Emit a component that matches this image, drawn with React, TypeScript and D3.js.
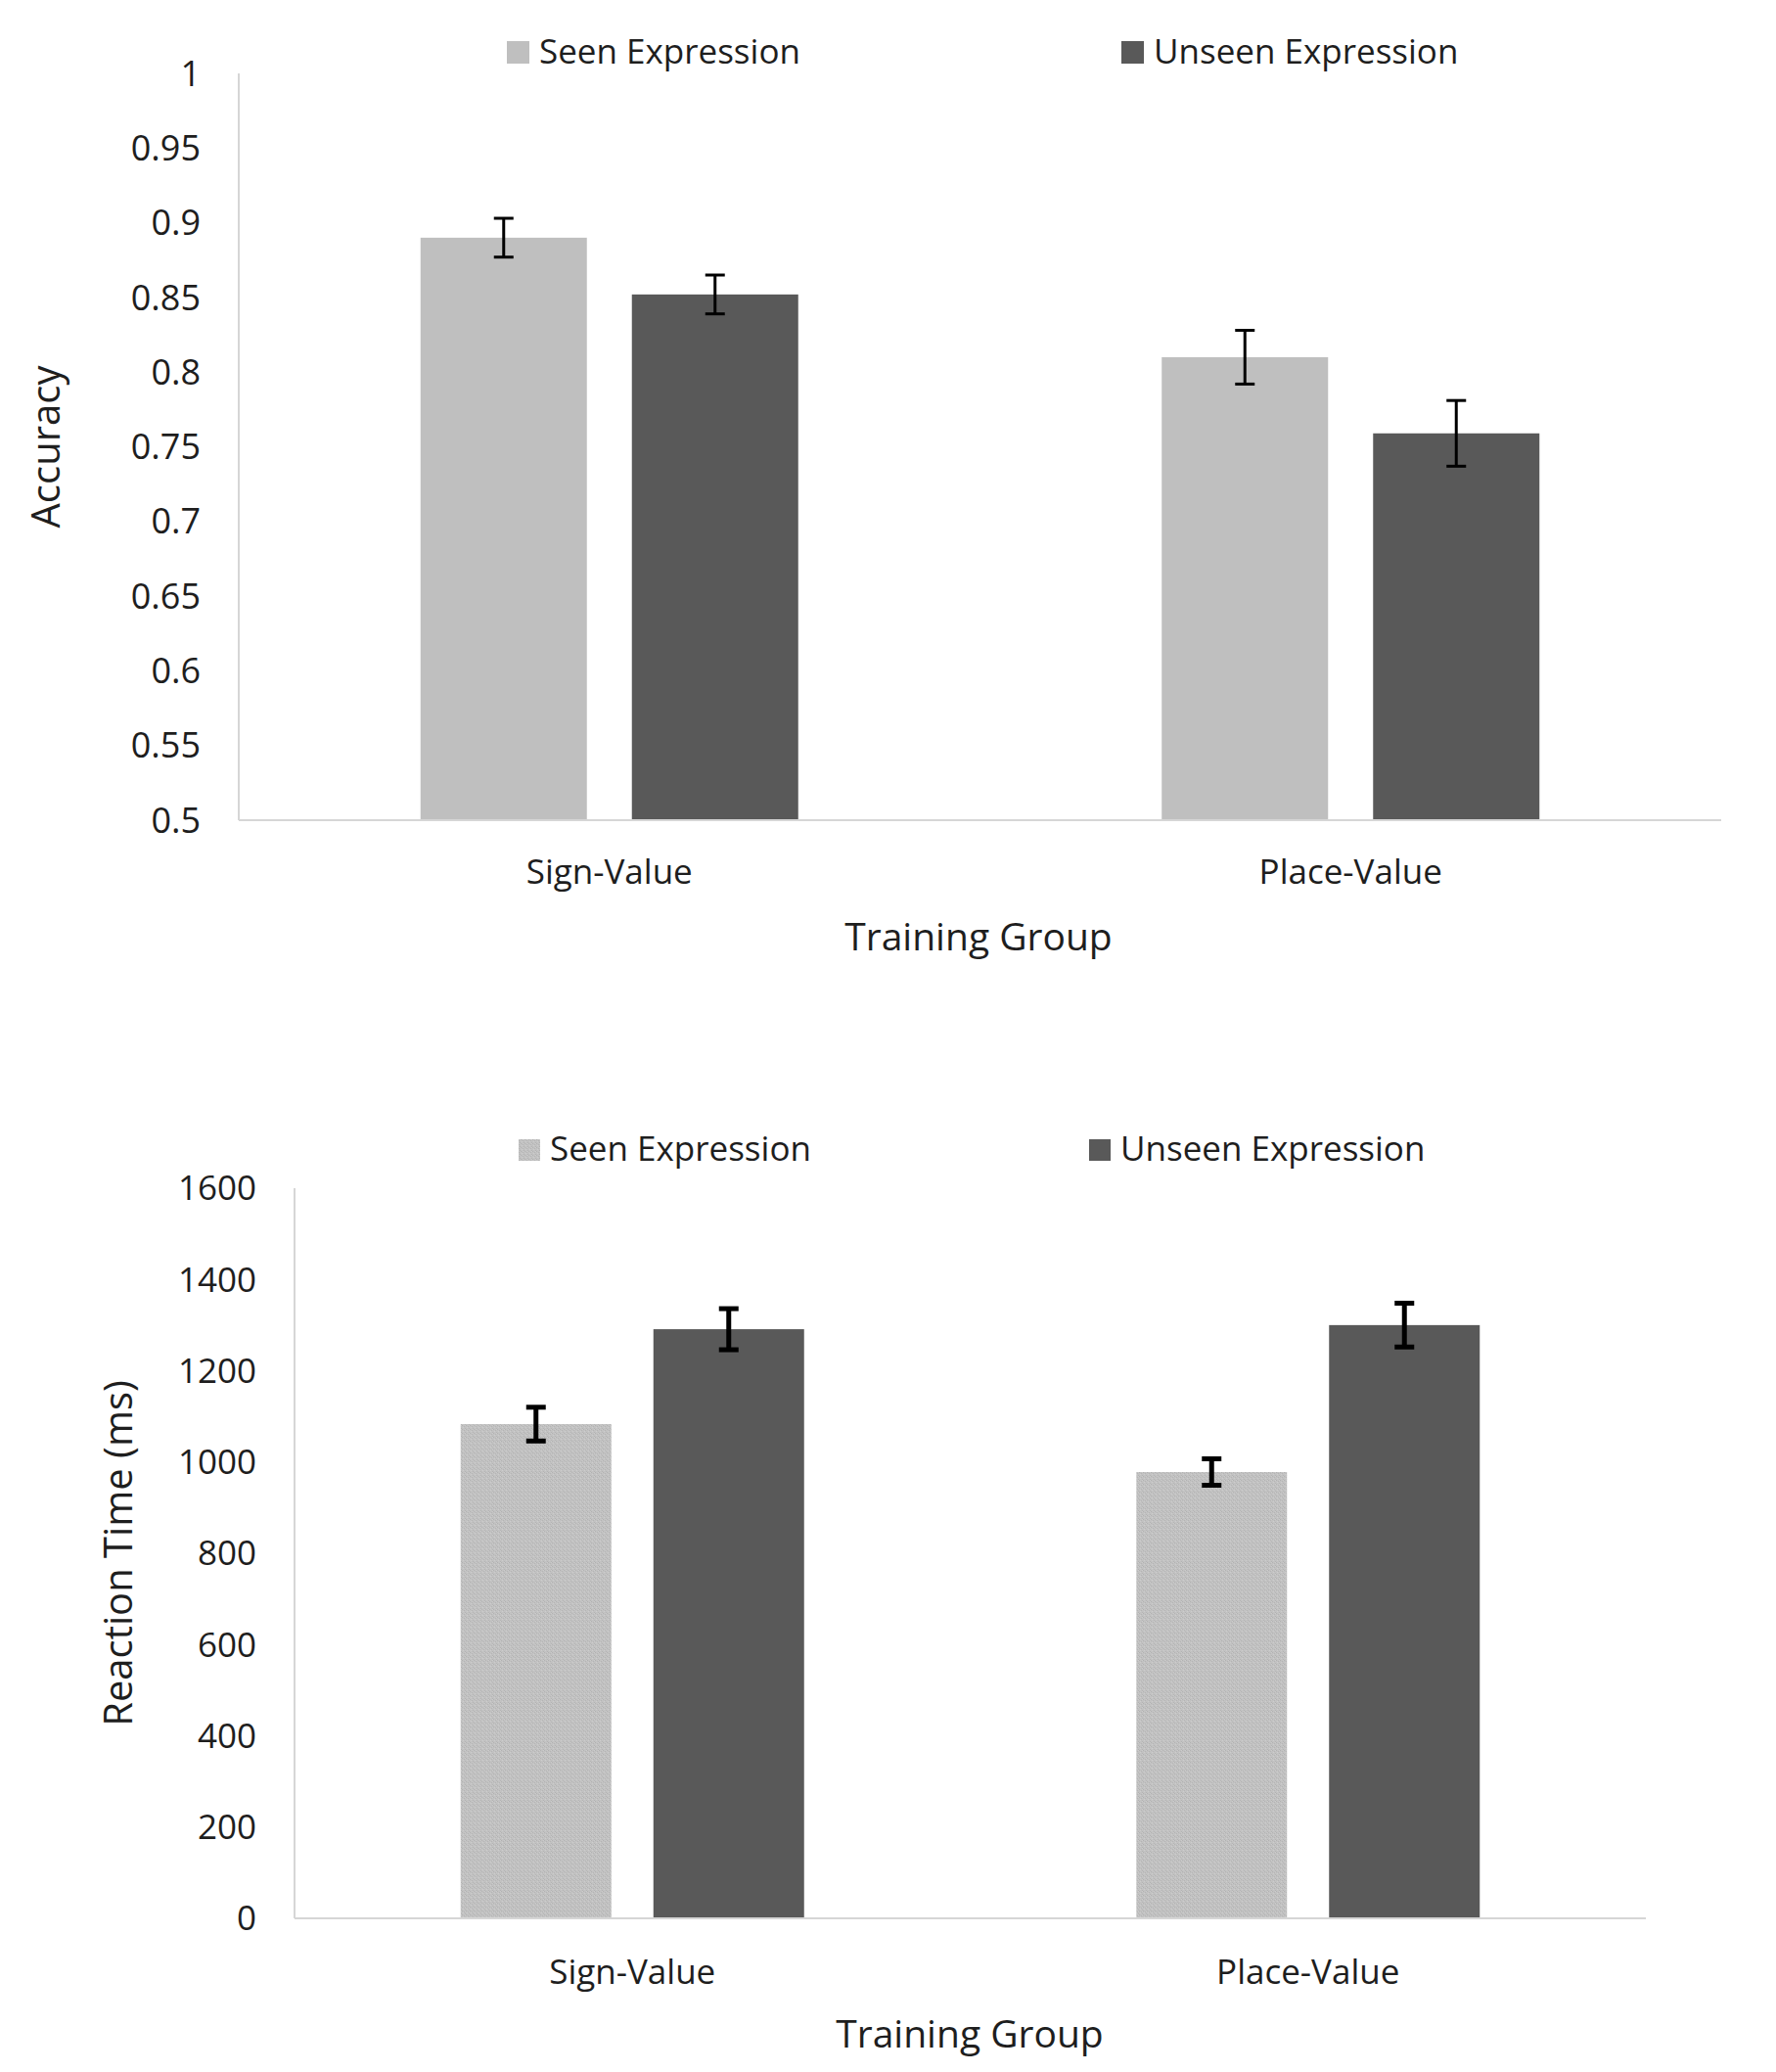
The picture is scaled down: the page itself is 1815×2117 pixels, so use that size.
import React from 'react';
import * as d3 from 'd3';

const groups = ['Sign-Value', 'Place-Value'];
const seriesNames = ['Seen Expression', 'Unseen Expression'];

const accSeen = [0.89, 0.81];
const accSeenErr = [0.013, 0.018];
const accUnseen = [0.852, 0.759];
const accUnseenErr = [0.013, 0.022];
const accTicks = [0.5, 0.55, 0.6, 0.65, 0.7, 0.75, 0.8, 0.85, 0.9, 0.95, 1];

const rtSeen = [1083, 978];
const rtSeenErr = [37, 29];
const rtUnseen = [1291, 1300];
const rtUnseenErr = [45, 48];
const rtTicks = [0, 200, 400, 600, 800, 1000, 1200, 1400, 1600];

const FONT = '"Open Sans", sans-serif';
const TEXT = '#1e1e1e';
const AXIS = '#d6d6d6';

interface PanelProps {
  top: number;
  bottom: number;
  left: number;
  right: number;
  domain: [number, number];
  ticks: number[];
  fmt: (v: number) => string;
  values: number[][];
  errors: number[][];
  fills: string[];
  barWidth: number;
  barGap: number;
  errWidth: number;
  yTitle: string;
  yTitleX: number;
  tickRight: number;
  tickSize: number;
  catY: number;
  xTitleY: number;
  xTitleX: number;
  legendY: number;
  legendX: number[];
  legendSize: number;
}

const Panel: React.FC<PanelProps> = (p) => {
  const y = d3.scaleLinear().domain(p.domain).range([p.bottom, p.top]);
  const x = d3.scaleBand<string>().domain(groups).range([p.left, p.right]).padding(0);
  const groupW = 2 * p.barWidth + p.barGap;
  const xs = d3.scaleBand<string>()
    .domain(seriesNames)
    .range([-groupW / 2, groupW / 2])
    .paddingInner(p.barGap / (p.barWidth + p.barGap));
  const cap = 10;

  return (
    <g>
      {/* legend */}
      {seriesNames.map((s, i) => (
        <g key={s}>
          <rect x={p.legendX[i]} y={p.legendY - p.legendSize} width={p.legendSize} height={p.legendSize}
            fill={p.fills[i]} />
          <text x={p.legendX[i] + p.legendSize + 10} y={p.legendY} fontSize={35} fill={TEXT}>{s}</text>
        </g>
      ))}

      {/* y ticks */}
      {p.ticks.map(t => (
        <text key={t} x={p.tickRight} y={y(t)} dy="0.35em" textAnchor="end" fontSize={p.tickSize} fill={TEXT}>
          {p.fmt(t)}
        </text>
      ))}

      {/* bars */}
      {groups.map((g, gi) => (
        <g key={g}>
          {seriesNames.map((s, si) => {
            const cx = x(g)! + x.bandwidth() / 2;
            const x0 = cx + xs(s)!;
            const v = p.values[si][gi];
            const e = p.errors[si][gi];
            const mx = x0 + xs.bandwidth() / 2;
            return (
              <g key={s}>
                <rect x={x0} y={y(v)} width={xs.bandwidth()} height={p.bottom - y(v)} fill={p.fills[si]} />
                <g stroke="#000" strokeWidth={p.errWidth}>
                  <line x1={mx} x2={mx} y1={y(v + e)} y2={y(v - e)} />
                  <line x1={mx - cap} x2={mx + cap} y1={y(v + e)} y2={y(v + e)} />
                  <line x1={mx - cap} x2={mx + cap} y1={y(v - e)} y2={y(v - e)} />
                </g>
              </g>
            );
          })}
          <text x={x(g)! + x.bandwidth() / 2} y={p.catY} textAnchor="middle" fontSize={35} fill={TEXT}>{g}</text>
        </g>
      ))}

      {/* axes */}
      <line x1={p.left} x2={p.left} y1={p.top} y2={p.bottom} stroke={AXIS} strokeWidth={2} />
      <line x1={p.left} x2={p.right} y1={p.bottom} y2={p.bottom} stroke={AXIS} strokeWidth={2} />

      <text x={p.xTitleX} y={p.xTitleY} textAnchor="middle" fontSize={39} fill={TEXT}>Training Group</text>
      <text transform={`translate(${p.yTitleX},${(p.top + p.bottom) / 2}) rotate(-90)`} textAnchor="middle"
        dy="0.35em" fontSize={40} fill={TEXT}>{p.yTitle}</text>
    </g>
  );
};

const App: React.FC = () => {
  return (
    <svg width={1815} height={2117} style={{ position: 'absolute', left: 0, top: 0, background: '#fff' }}
      fontFamily={FONT}>
      <defs>
        <pattern id="speckle" width={4} height={4} patternUnits="userSpaceOnUse">
          <rect width={4} height={4} fill="#c2c2c2" />
          <rect x={0} y={0} width={1} height={1} fill="#b2b2b2" />
          <rect x={2} y={1} width={1} height={1} fill="#b5b5b5" />
          <rect x={1} y={2} width={1} height={1} fill="#cdcdcd" />
          <rect x={3} y={3} width={1} height={1} fill="#b4b4b4" />
          <rect x={3} y={0} width={1} height={1} fill="#cbcbcb" />
        </pattern>
      </defs>
      <rect width={1815} height={2117} fill="#fff" />

      <Panel
        top={75} bottom={838} left={244} right={1759}
        domain={[0.5, 1]} ticks={accTicks} fmt={d => String(+d.toFixed(2))}
        values={[accSeen, accUnseen]} errors={[accSeenErr, accUnseenErr]}
        fills={['#bfbfbf', '#595959']} barWidth={170} barGap={46} errWidth={3}
        yTitle="Accuracy" yTitleX={47} tickRight={205} tickSize={36}
        catY={903} xTitleX={1000} xTitleY={971}
        legendY={65} legendX={[518, 1146]} legendSize={23}
      />

      <Panel
        top={1214} bottom={1960} left={301} right={1682}
        domain={[0, 1600]} ticks={rtTicks} fmt={d => String(d)}
        values={[rtSeen, rtUnseen]} errors={[rtSeenErr, rtUnseenErr]}
        fills={['url(#speckle)', '#595959']} barWidth={154} barGap={43} errWidth={5}
        yTitle="Reaction Time (ms)" yTitleX={121} tickRight={262} tickSize={35}
        catY={2027} xTitleX={991} xTitleY={2092}
        legendY={1186} legendX={[530, 1113]} legendSize={22}
      />
    </svg>
  );
};

export default App;
